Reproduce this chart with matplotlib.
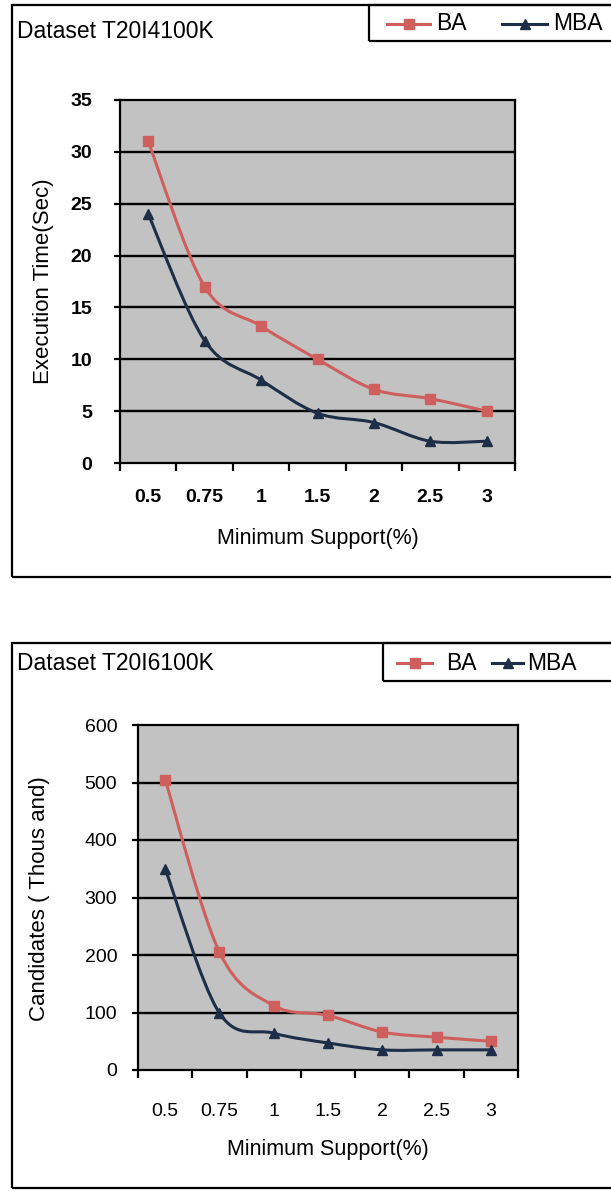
import numpy as np
import matplotlib
matplotlib.use("agg")
import matplotlib.pyplot as plt
from matplotlib.path import Path
from matplotlib.patches import PathPatch, Rectangle
from matplotlib.lines import Line2D

support = ["0.5", "0.75", "1", "1.5", "2", "2.5", "3"]

# Dataset T20I4100K: execution time (sec)
time_ba = [31, 17, 13.2, 10, 7.1, 6.2, 5]
time_mba = [24, 11.8, 8, 4.8, 3.9, 2.1, 2.1]

# Dataset T20I6100K: candidates (thousand)
cand_ba = [505, 205, 112, 95, 66, 57, 50]
cand_mba = [350, 99, 64, 47, 35, 35, 35]

W, H = 611, 1191
BA_COLOR = "#cf5f5c"
MBA_COLOR = "#1d2e48"
BG = "#c2c2c2"
plt.rcParams["font.family"] = ["Liberation Sans", "DejaVu Sans"]


def fx(x):
    return x / W


def fy(y):
    return 1 - y / H


def smooth(x, y):
    # smoothed line through the points, cubic Bezier segments
    x = np.asarray(x, float)
    y = np.asarray(y, float)
    n = len(x)
    verts = [(x[0], y[0])]
    codes = [Path.MOVETO]
    for i in range(n - 1):
        i0 = max(i - 1, 0)
        i3 = min(i + 2, n - 1)
        c1 = (x[i] + (x[i + 1] - x[i0]) / 6, y[i] + (y[i + 1] - y[i0]) / 6)
        c2 = (x[i + 1] - (x[i3] - x[i]) / 6, y[i + 1] - (y[i3] - y[i]) / 6)
        verts += [c1, c2, (x[i + 1], y[i + 1])]
        codes += [Path.CURVE4] * 3
    return Path(verts, codes)


def legend_entry(fig, x0, x1, y, color, marker, label, tx):
    fig.add_artist(Line2D([fx(x0), fx(x1)], [fy(y), fy(y)], color=color, lw=2.2,
                          transform=fig.transFigure))
    fig.add_artist(Line2D([fx((x0 + x1) / 2)], [fy(y)], color=color, marker=marker,
                          ms=7, lw=0, transform=fig.transFigure))
    fig.text(fx(tx), fy(y), label, fontsize=16.5, va="center", ha="left")


def panel(fig, ax_px, frame_px, leg_px, title, title_y, ylabel, ylabel_xy,
          ba, mba, ymax, ystep, ypad, xpad, xlabel_y, tick_weight):
    # outer frame and legend box
    l, t, b = frame_px
    fig.add_artist(Rectangle((fx(l), fy(b)), fx(W + 10) - fx(l), fy(t) - fy(b),
                             transform=fig.transFigure, fill=False, lw=1.6, ec="black"))
    ll, lt, lb = leg_px
    fig.add_artist(Rectangle((fx(ll), fy(lb)), fx(W + 10) - fx(ll), fy(lt) - fy(lb),
                             transform=fig.transFigure, fill=False, lw=1.6, ec="black"))
    fig.text(fx(l + 5), fy(title_y), title, fontsize=16.5, va="center", ha="left")

    x0, x1, y0, y1 = ax_px
    ax = fig.add_axes([fx(x0), fy(y1), fx(x1) - fx(x0), fy(y0) - fy(y1)])
    ax.set_facecolor(BG)
    xs = np.arange(len(support))
    ax.set_xlim(-0.5, len(support) - 0.5)
    ax.set_ylim(0, ymax)

    yt = np.arange(0, ymax + ystep, ystep)
    ax.set_yticks(yt)
    for v in yt[1:-1]:
        ax.axhline(v, color="black", lw=1.7, zorder=1)

    ax.set_xticks(np.arange(-0.5, len(support), 1))
    ax.set_xticklabels([])
    ax.set_xticks(xs, minor=True)
    ax.set_xticklabels(support, minor=True, fontsize=14, fontweight=tick_weight)
    for lab in ax.get_yticklabels():
        lab.set_fontweight(tick_weight)
    ax.tick_params(axis="x", which="major", direction="out", length=6, width=1.6)
    ax.tick_params(axis="x", which="minor", length=0, pad=xpad)
    ax.tick_params(axis="y", direction="out", length=4, width=1.6, labelsize=14, pad=ypad)
    for s in ax.spines.values():
        s.set_linewidth(1.6)

    for vals, color, marker in [(ba, BA_COLOR, "s"), (mba, MBA_COLOR, "^")]:
        ax.add_patch(PathPatch(smooth(xs, vals), fill=False, ec=color, lw=2.2, zorder=3))
        ax.plot(xs, vals, ls="none", marker=marker, ms=6.5, color=color, zorder=4)

    fig.text(fx((x0 + x1) / 2), fy(xlabel_y), "Minimum Support(%)", fontsize=15.5,
             ha="center", va="center")
    fig.text(fx(ylabel_xy[0]), fy(ylabel_xy[1]), ylabel, fontsize=16, rotation=90,
             ha="center", va="center")
    return ax


fig = plt.figure(figsize=(W / 100, H / 100), dpi=100)

panel(fig, (120, 515, 100, 463), (12, 5, 577), (369, 5, 41),
      "Dataset T20I4100K", 32, "Execution Time(Sec)", (43, 281),
      time_ba, time_mba, 35, 5, 16, 19, 538, "bold")
legend_entry(fig, 387, 430, 24, BA_COLOR, "s", "BA", 436)
legend_entry(fig, 502, 547, 24, MBA_COLOR, "^", "MBA", 553)

panel(fig, (138, 518, 725, 1070), (12, 643, 1188), (383, 643, 681),
      "Dataset T20I6100K", 664, "Candidates ( Thous and)", (40, 899),
      cand_ba, cand_mba, 600, 100, 11, 24, 1150, "normal")
legend_entry(fig, 397, 432, 663, BA_COLOR, "s", "BA", 446)
legend_entry(fig, 492, 523, 663, MBA_COLOR, "^", "MBA", 527)

fig.savefig("out.png", dpi=100, facecolor="white")
